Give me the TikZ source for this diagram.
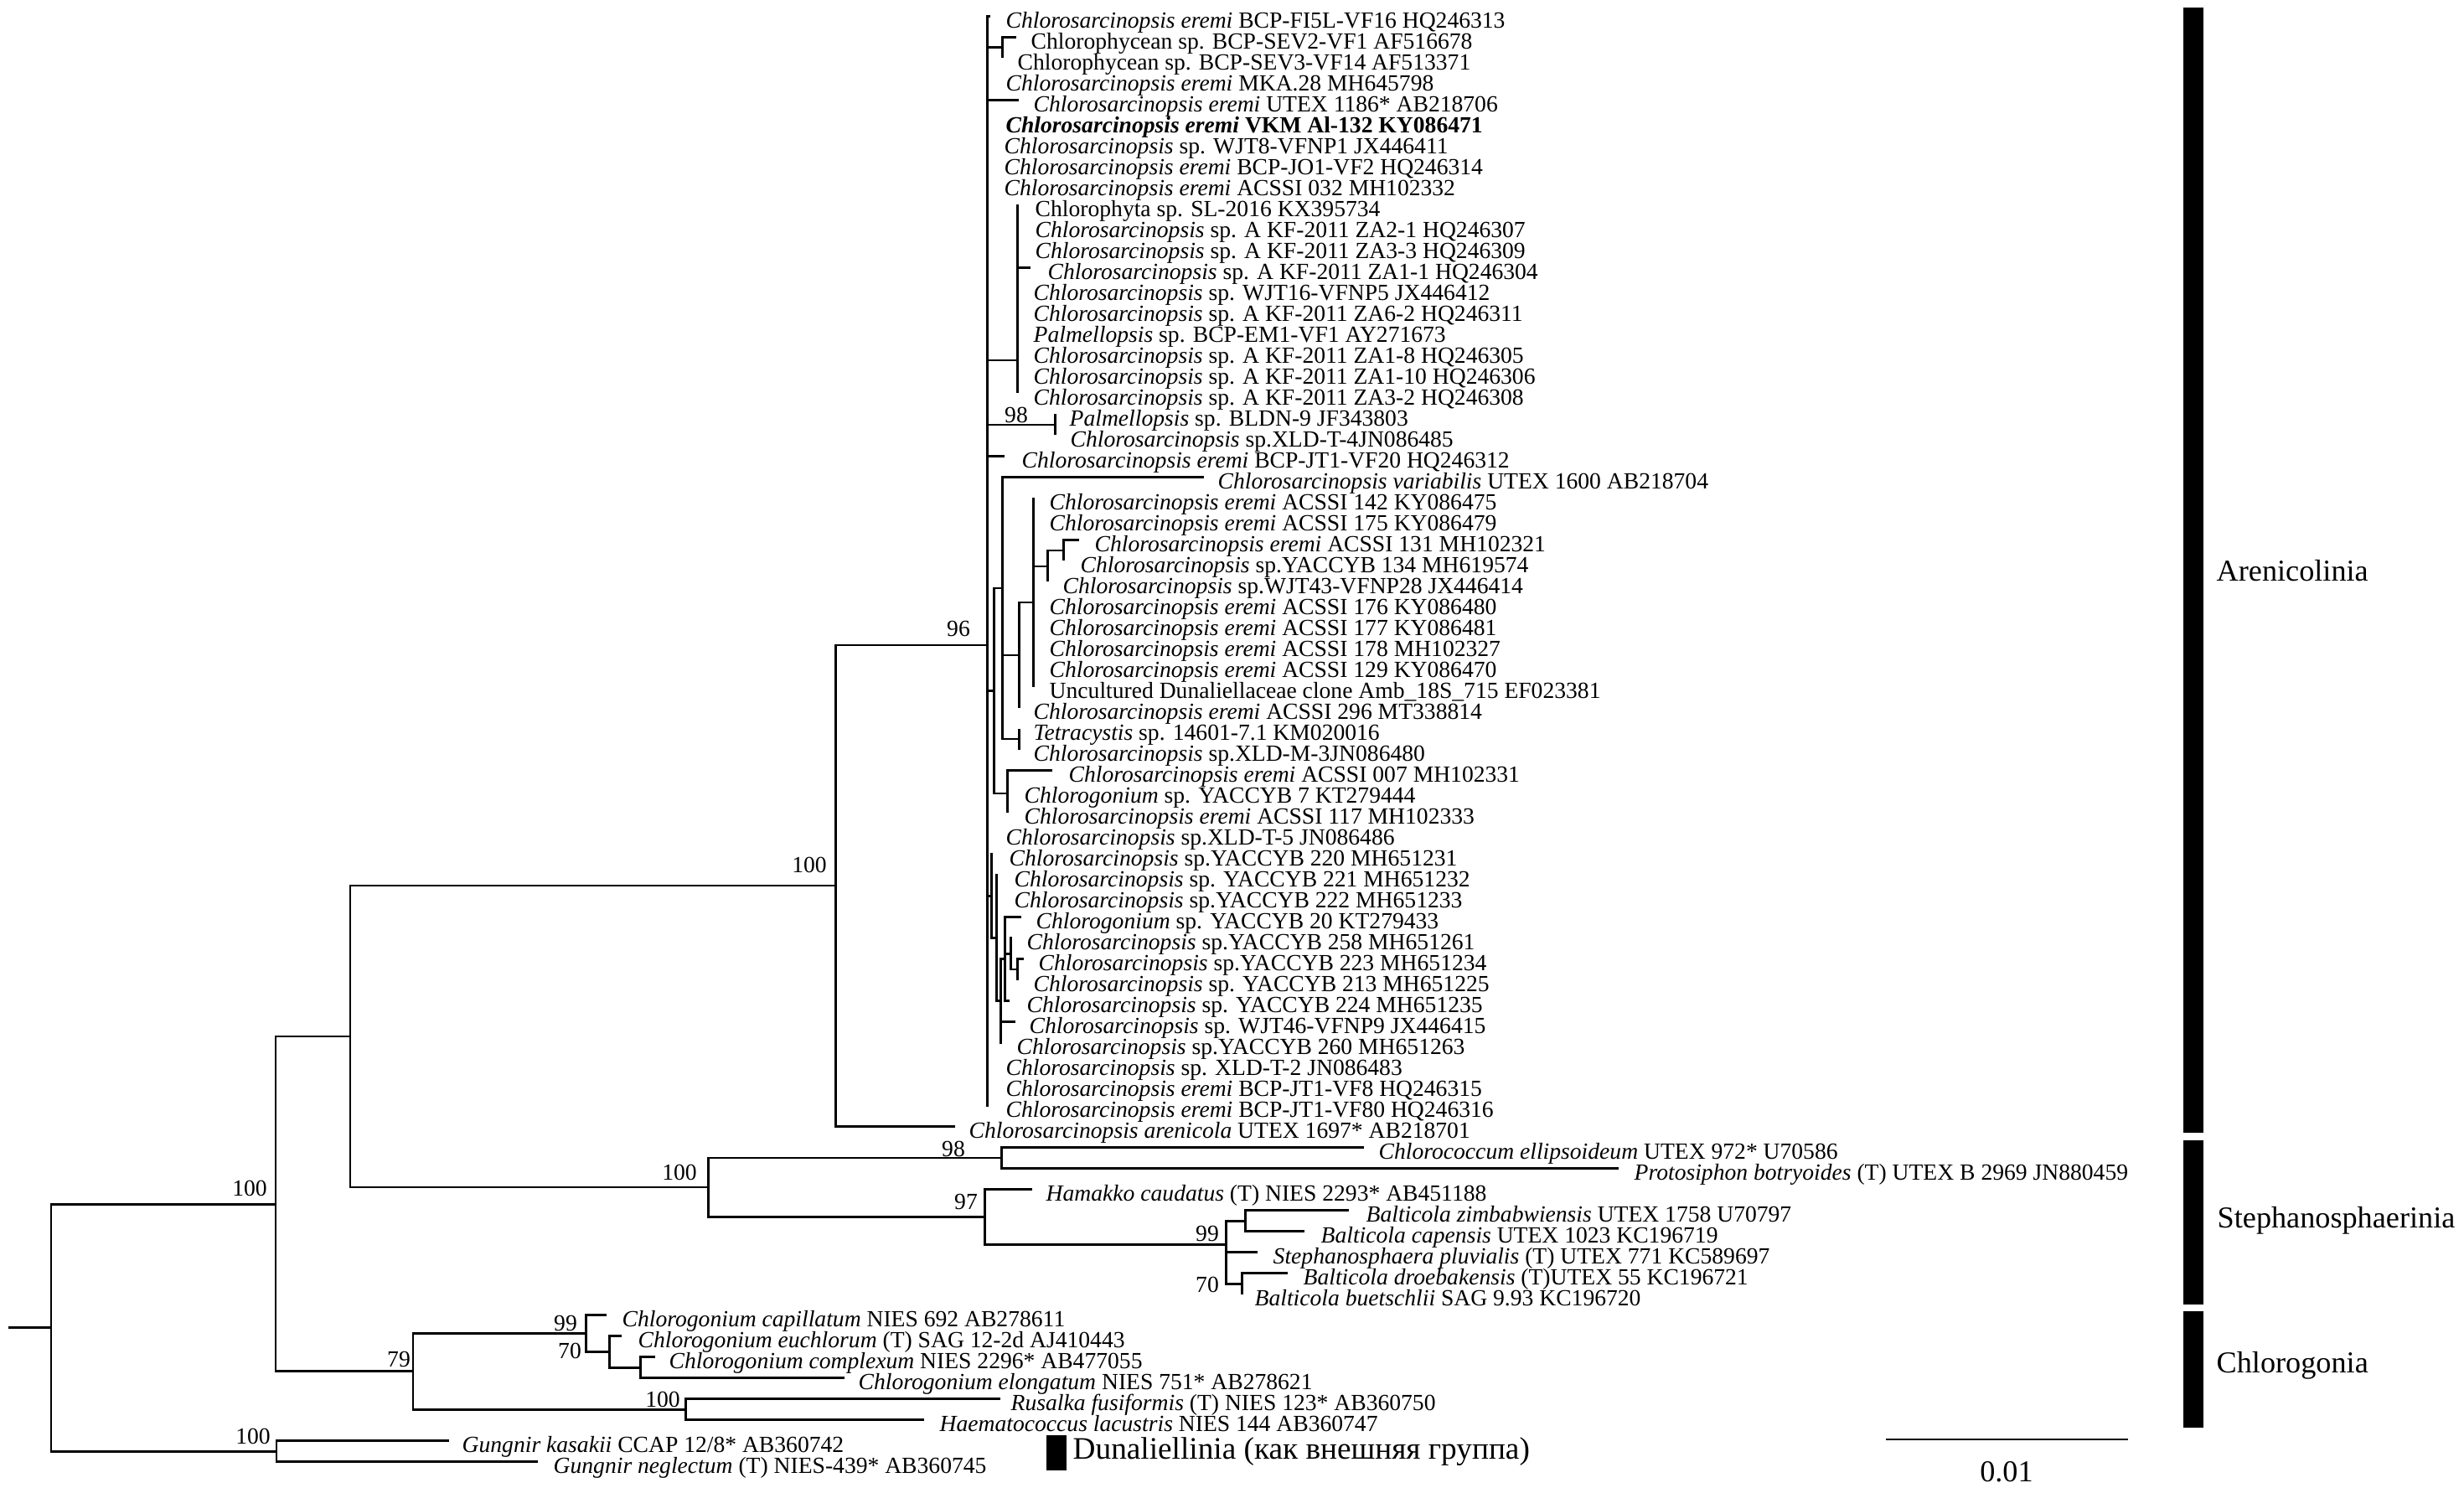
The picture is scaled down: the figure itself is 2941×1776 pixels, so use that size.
\documentclass[tikz,border=0pt]{standalone}
\usepackage{fontspec}
\setmainfont{Liberation Serif}
\newcommand{\mkleaf}[5]{%
  \coordinate (#1) at (#3,{19.5+25*(#2-1)});
  \node[lab] (#1t) at (#4,{19.5+25*(#2-1)}) {#5};}
\newcommand{\CsI}{\textit{Chlorosarcinopsis}}
\newcommand{\CeI}{\textit{Chlorosarcinopsis eremi}}
\begin{document}
\begin{tikzpicture}[x=0.01cm,y=-0.01cm,
  br/.style={line width=0.85pt},
  lab/.style={anchor=mid west,inner sep=0pt,font=\fontsize{7.85}{9}\selectfont,yshift=-0.06cm},
  boot/.style={inner sep=0pt,font=\fontsize{7.85}{9}\selectfont},
  grp/.style={anchor=west,inner sep=0pt,font=\fontsize{10.3}{12}\selectfont}]
\useasboundingbox (0,0) rectangle (2941,1776);

% ---------- leaves ----------
\mkleaf{t1}{1}{1182}{1200}{\CeI{} BCP-FI5L-VF16 HQ246313}
\mkleaf{t2}{2}{1213}{1230}{Chlorophycean sp. BCP-SEV2-VF1 AF516678}
\mkleaf{t3}{3}{1196}{1214}{Chlorophycean sp. BCP-SEV3-VF14 AF513371}
\mkleaf{t4}{4}{1180}{1200}{\CeI{} MKA.28 MH645798}
\mkleaf{t5}{5}{1216}{1233}{\CeI{} UTEX 1186* AB218706}
\mkleaf{t6}{6}{1180}{1200}{\textbf{\CeI{} VKM Al-132 KY086471}}
\mkleaf{t7}{7}{1180}{1198}{\CsI{} sp. WJT8-VFNP1 JX446411}
\mkleaf{t8}{8}{1180}{1198}{\CeI{} BCP-JO1-VF2 HQ246314}
\mkleaf{t9}{9}{1180}{1198}{\CeI{} ACSSI 032 MH102332}
\mkleaf{t10}{10}{1214}{1235}{Chlorophyta sp. SL-2016 KX395734}
\mkleaf{t11}{11}{1214}{1235}{\CsI{} sp. A KF-2011 ZA2-1 HQ246307}
\mkleaf{t12}{12}{1214}{1235}{\CsI{} sp. A KF-2011 ZA3-3 HQ246309}
\mkleaf{t13}{13}{1230}{1250}{\CsI{} sp. A KF-2011 ZA1-1 HQ246304}
\mkleaf{t14}{14}{1214}{1233}{\CsI{} sp. WJT16-VFNP5 JX446412}
\mkleaf{t15}{15}{1214}{1233}{\CsI{} sp. A KF-2011 ZA6-2 HQ246311}
\mkleaf{t16}{16}{1214}{1233}{\textit{Palmellopsis} sp. BCP-EM1-VF1 AY271673}
\mkleaf{t17}{17}{1214}{1233}{\CsI{} sp. A KF-2011 ZA1-8 HQ246305}
\mkleaf{t18}{18}{1214}{1233}{\CsI{} sp. A KF-2011 ZA1-10 HQ246306}
\mkleaf{t19}{19}{1214}{1233}{\CsI{} sp. A KF-2011 ZA3-2 HQ246308}
\mkleaf{t20}{20}{1259}{1276}{\textit{Palmellopsis} sp. BLDN-9 JF343803}
\mkleaf{t21}{21}{1259}{1277}{\CsI{} sp.XLD-T-4JN086485}
\mkleaf{t22}{22}{1199}{1219}{\CeI{} BCP-JT1-VF20 HQ246312}
\mkleaf{t23}{23}{1437}{1453}{\textit{Chlorosarcinopsis variabilis} UTEX 1600 AB218704}
\mkleaf{t24}{24}{1233}{1252}{\CeI{} ACSSI 142 KY086475}
\mkleaf{t25}{25}{1233}{1252}{\CeI{} ACSSI 175 KY086479}
\mkleaf{t26}{26}{1288}{1306}{\CeI{} ACSSI 131 MH102321}
\mkleaf{t27}{27}{1269}{1289}{\CsI{} sp.YACCYB 134 MH619574}
\mkleaf{t28}{28}{1250}{1268}{\CsI{} sp.WJT43-VFNP28 JX446414}
\mkleaf{t29}{29}{1233}{1252}{\CeI{} ACSSI 176 KY086480}
\mkleaf{t30}{30}{1233}{1252}{\CeI{} ACSSI 177 KY086481}
\mkleaf{t31}{31}{1233}{1252}{\CeI{} ACSSI 178 MH102327}
\mkleaf{t32}{32}{1233}{1252}{\CeI{} ACSSI 129 KY086470}
\mkleaf{t33}{33}{1233}{1252}{Uncultured Dunaliellaceae clone Amb\_18S\_715 EF023381}
\mkleaf{t34}{34}{1216}{1233}{\CeI{} ACSSI 296 MT338814}
\mkleaf{t35}{35}{1216}{1233}{\textit{Tetracystis} sp. 14601-7.1 KM020016}
\mkleaf{t36}{36}{1216}{1233}{\CsI{} sp.XLD-M-3JN086480}
\mkleaf{t37}{37}{1256}{1275}{\CeI{} ACSSI 007 MH102331}
\mkleaf{t38}{38}{1202}{1222}{\textit{Chlorogonium} sp. YACCYB 7 KT279444}
\mkleaf{t39}{39}{1202}{1222}{\CeI{} ACSSI 117 MH102333}
\mkleaf{t40}{40}{1180}{1200}{\CsI{} sp.XLD-T-5 JN086486}
\mkleaf{t41}{41}{1185}{1204}{\CsI{} sp.YACCYB 220 MH651231}
\mkleaf{t42}{42}{1191}{1210}{\CsI{} sp. YACCYB 221 MH651232}
\mkleaf{t43}{43}{1191}{1210}{\CsI{} sp.YACCYB 222 MH651233}
\mkleaf{t44}{44}{1219}{1236}{\textit{Chlorogonium} sp. YACCYB 20 KT279433}
\mkleaf{t45}{45}{1208}{1225}{\CsI{} sp.YACCYB 258 MH651261}
\mkleaf{t46}{46}{1222}{1239}{\CsI{} sp.YACCYB 223 MH651234}
\mkleaf{t47}{47}{1214}{1233}{\CsI{} sp. YACCYB 213 MH651225}
\mkleaf{t48}{48}{1205}{1225}{\CsI{} sp. YACCYB 224 MH651235}
\mkleaf{t49}{49}{1212}{1228}{\CsI{} sp. WJT46-VFNP9 JX446415}
\mkleaf{t50}{50}{1196}{1213}{\CsI{} sp.YACCYB 260 MH651263}
\mkleaf{t51}{51}{1180}{1200}{\CsI{} sp. XLD-T-2 JN086483}
\mkleaf{t52}{52}{1180}{1200}{\CeI{} BCP-JT1-VF8 HQ246315}
\mkleaf{t53}{53}{1180}{1200}{\CeI{} BCP-JT1-VF80 HQ246316}
\mkleaf{t54}{54}{1140}{1156}{\textit{Chlorosarcinopsis arenicola} UTEX 1697* AB218701}
\mkleaf{t55}{55}{1628}{1645}{\textit{Chlorococcum ellipsoideum} UTEX 972* U70586}
\mkleaf{t56}{56}{1932}{1950}{\textit{Protosiphon botryoides} (T) UTEX B 2969 JN880459}
\mkleaf{t57}{57}{1232}{1248}{\textit{Hamakko caudatus} (T) NIES 2293* AB451188}
\mkleaf{t58}{58}{1610}{1630}{\textit{Balticola zimbabwiensis} UTEX 1758 U70797}
\mkleaf{t59}{59}{1557}{1576}{\textit{Balticola capensis} UTEX 1023 KC196719}
\mkleaf{t60}{60}{1501}{1519}{\textit{Stephanosphaera pluvialis} (T) UTEX 771 KC589697}
\mkleaf{t61}{61}{1537}{1555}{\textit{Balticola droebakensis} (T)UTEX 55 KC196721}
\mkleaf{t62}{62}{1482}{1497}{\textit{Balticola buetschlii} SAG 9.93 KC196720}
\mkleaf{t63}{63}{724}{742}{\textit{Chlorogonium capillatum} NIES 692 AB278611}
\mkleaf{t64}{64}{742}{761}{\textit{Chlorogonium euchlorum} (T) SAG 12-2d AJ410443}
\mkleaf{t65}{65}{782}{798}{\textit{Chlorogonium complexum} NIES 2296* AB477055}
\mkleaf{t66}{66}{1008}{1024}{\textit{Chlorogonium elongatum} NIES 751* AB278621}
\mkleaf{t67}{67}{1194}{1206}{\textit{Rusalka fusiformis} (T) NIES 123* AB360750}
\mkleaf{t68}{68}{1103}{1121}{\textit{Haematococcus lacustris} NIES 144 AB360747}
\mkleaf{t69}{69}{536}{551}{\textit{Gungnir kasakii} CCAP 12/8* AB360742}
\mkleaf{t70}{70}{642}{660}{\textit{Gungnir neglectum} (T) NIES-439* AB360745}

% ---------- internal nodes ----------
\coordinate (r0) at (10,1584.5);
\coordinate (nRoot) at (61,1584.5);
\coordinate (nA) at (329,1437);
\coordinate (nG) at (330,1732);
\coordinate (nB) at (418,1237);
\coordinate (nH) at (493,1636.7);
\coordinate (nI) at (699,1591.4);
\coordinate (nJ) at (727,1613.25);
\coordinate (nK) at (764,1632);
\coordinate (nR) at (818,1682);
\coordinate (nC) at (997,1057);
\coordinate (nD) at (845,1417);
\coordinate (nE) at (1178,770);
\coordinate (nF) at (1195,1382);
\coordinate (nS) at (1175,1452);
\coordinate (nT) at (1463,1485);
\coordinate (nU) at (1486,1457);
\coordinate (nV) at (1482,1532);
\coordinate (n23) at (1196,57);
\coordinate (nP) at (1214,430);
\coordinate (nQ) at (1259,507);
\coordinate (nZ) at (1186,824.5);
\coordinate (nW) at (1196,702);
\coordinate (nX0) at (1216,782);
\coordinate (nX1) at (1233,719);
\coordinate (nX2) at (1250,676);
\coordinate (nX3) at (1269,657);
\coordinate (nY) at (1216,882);
\coordinate (nZb) at (1202,947);
\coordinate (nN1) at (1183,1069.5);
\coordinate (nN2) at (1189,1119.5);
\coordinate (nN3) at (1194,1194.5);
\coordinate (nN4) at (1199,1144.5);
\coordinate (nN5) at (1206,1138.25);
\coordinate (nN6) at (1214,1157);

% ---------- branches ----------
\draw[br] (r0) -- (nRoot);
\foreach \p/\c in {nRoot/nA,nRoot/nG,nG/t69,nG/t70,nA/nB,nA/nH,
  nH/nI,nH/nR,nI/t63,nI/nJ,nJ/t64,nJ/nK,nK/t65,nK/t66,nR/t67,nR/t68,
  nB/nC,nB/nD,nC/nE,nC/t54,nD/nF,nD/nS,nF/t55,nF/t56,
  nS/t57,nS/nT,nT/nU,nT/t60,nT/nV,nU/t58,nU/t59,nV/t61,nV/t62,
  nE/t1,nE/n23,n23/t2,n23/t3,nE/t4,nE/t5,nE/t6,nE/t7,nE/t8,nE/t9,
  nE/nP,nP/t10,nP/t11,nP/t12,nP/t13,nP/t14,nP/t15,nP/t16,nP/t17,nP/t18,nP/t19,
  nE/nQ,nQ/t20,nQ/t21,nE/t22,nE/nZ,nZ/nW,nZ/nZb,
  nW/t23,nW/nX0,nW/nY,nX0/nX1,nX0/t34,nX1/t24,nX1/t25,nX1/nX2,
  nX2/nX3,nX2/t28,nX3/t26,nX3/t27,nX1/t29,nX1/t30,nX1/t31,nX1/t32,nX1/t33,
  nY/t35,nY/t36,nZb/t37,nZb/t38,nZb/t39,
  nE/t40,nE/nN1,nN1/t41,nN1/nN2,nN2/t42,nN2/t43,nN2/nN3,
  nN3/nN4,nN3/t49,nN3/t50,nN4/t44,nN4/nN5,nN4/t48,nN5/t45,nN5/nN6,nN6/t46,nN6/t47,
  nE/t51,nE/t52,nE/t53}
  \draw[br] (\p) |- (\c);

% ---------- bootstrap values ----------
\node[boot] (b96) at (1144,750) {96};
\node[boot] (bC) at (966,1032) {100};
\node[boot] (bA) at (298,1418) {100};
\node[boot] (bD) at (811,1399) {100};
\node[boot] (bF) at (1138,1371) {98};
\node[boot] (bS) at (1153,1434) {97};
\node[boot] (bT) at (1441,1472) {99};
\node[boot] (bV) at (1441,1533) {70};
\node[boot] (bQ) at (1213,495) {98};
\node[boot] (bG) at (302,1714) {100};
\node[boot] (bH) at (476,1622) {79};
\node[boot] (bI) at (675,1579) {99};
\node[boot] (bJ) at (680,1612) {70};
\node[boot] (bR) at (791,1670) {100};

% ---------- group bars ----------
\fill (2606,9) rectangle (2630,1352);
\fill (2606,1361) rectangle (2630,1557);
\fill (2606,1565) rectangle (2630,1704);
\node[grp] (gA) at (2645,681) {Arenicolinia};
\node[grp] (gS) at (2646,1457) {Stephanosphaerinia};
\node[grp] (gC) at (2645,1630) {Chlorogonia};
\fill (1249,1713) rectangle (1273,1755);
\node[grp,font=\fontsize{10.6}{12}\selectfont] (gD) at (1280,1733) {Dunaliellinia (как внешняя группа)};

% ---------- scale bar ----------
\coordinate (sb1) at (2251,1718);
\coordinate (sb2) at (2540,1718);
\draw[line width=0.6pt] (sb1) -- (sb2);
\node[grp,anchor=center] (sbl) at (2395,1757) {0.01};
\end{tikzpicture}
\end{document}
